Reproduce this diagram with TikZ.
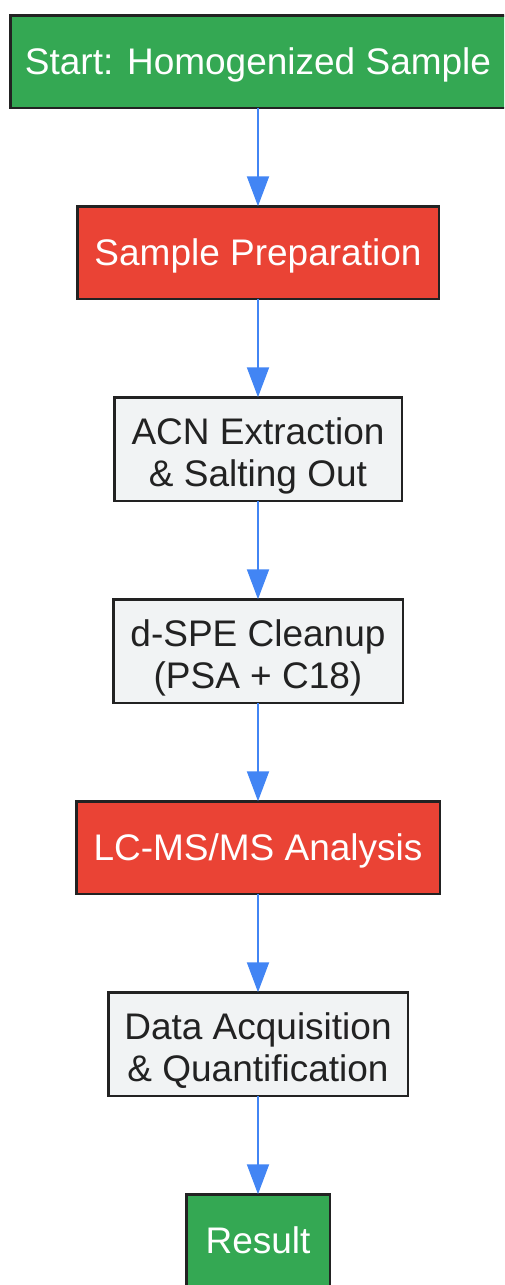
\documentclass[tikz,border=0pt]{standalone}
\usepackage{fontspec}
\setmainfont{Liberation Sans}
\usetikzlibrary{positioning,arrows.meta}
\definecolor{startgreen}{HTML}{34A853}
\definecolor{stepred}{HTML}{EA4335}
\definecolor{stepgray}{HTML}{F1F3F4}
\definecolor{edgeblack}{HTML}{222222}
\definecolor{flowblue}{HTML}{4285F4}
\newcommand{\linestrut}{\rule[-0.212em]{0pt}{1.117em}}
\newcommand{\twolines}[2]{\rule{0pt}{1.12em}#1\\#2\linestrut}
\begin{document}
\begin{tikzpicture}
            [x=1pt,y=1pt,node distance=98.5pt,
             Box/.style={draw=edgeblack,line width=2.5pt,align=center,inner sep=0pt,outer sep=0pt,
                         font=\fontsize{37}{42}\selectfont,minimum height=92.5pt},
             Green/.style={Box,fill=startgreen,text=white},
             Red/.style={Box,fill=stepred,text=white},
             Gray/.style={Box,fill=stepgray,text=edgeblack,minimum height=103.5pt},
             Flow/.style={draw=flowblue,line width=2pt,-{Triangle[length=30pt,width=22pt]}}]
            \useasboundingbox (0,0) rectangle (504,-1285);
            \clip (0,0) rectangle (504,-1285);
            \node[Green,minimum width=495.5pt] (start) at (258,-61.5){\linestrut Start: Homogenized Sample};
            \node[Red,minimum width=361.5pt,below=of start] (prep){\linestrut Sample Preparation};
            \node[Gray,minimum width=287.5pt,below=of prep] (acn){\twolines{ACN Extraction}{\& Salting Out}};
            \node[Gray,minimum width=289.5pt,below=of acn] (dspe){\twolines{d-SPE Cleanup}{(PSA + C18)}};
            \node[Red,minimum width=363.5pt,below=of dspe] (lcms){\linestrut LC-MS/MS Analysis};
            \node[Gray,minimum width=299.5pt,below=of lcms] (data){\twolines{Data Acquisition}{\& Quantification}};
            \node[Green,minimum width=143.5pt,below=of data] (result){\linestrut Result};
            \draw [Flow](start) to (prep);
            \draw [Flow](prep) to (acn);
            \draw [Flow](acn) to (dspe);
            \draw [Flow](dspe) to (lcms);
            \draw [Flow](lcms) to (data);
            \draw [Flow](data) to (result);
        \end{tikzpicture}
\end{document}
